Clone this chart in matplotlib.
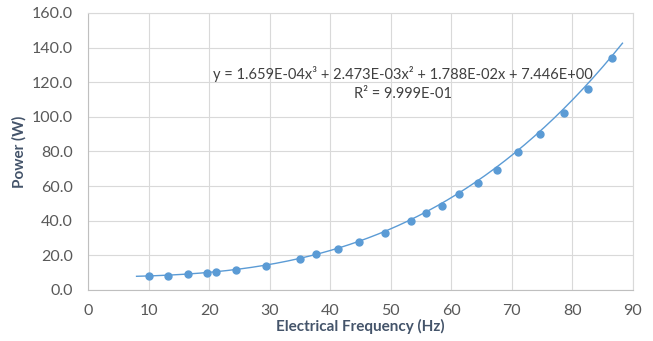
import numpy as np
import matplotlib.pyplot as plt

freq = [10.0, 13.2, 16.5, 19.6, 21.2, 24.5, 29.4, 35.0, 37.7, 41.3, 44.8,
        49.1, 53.3, 55.9, 58.4, 61.3, 64.5, 67.5, 71.1, 74.6, 78.7, 82.6, 86.6]
power = [8.0, 8.1, 9.0, 9.8, 10.3, 11.7, 14.0, 17.9, 20.5, 23.5, 27.5,
         33.0, 39.7, 44.4, 48.7, 55.2, 62.0, 69.4, 79.6, 89.8, 102.3, 115.8, 133.9]

# trendline coefficients from the chart label (x^3, x^2, x, 1)
coef = [1.659e-04, 2.473e-03, 1.788e-02, 7.446e+00]
trend_range = [8.0, 88.3]

xticks = [0, 10, 20, 30, 40, 50, 60, 70, 80, 90]
yticks = [0, 20, 40, 60, 80, 100, 120, 140, 160]

blue = '#5B9BD5'
grid_c = '#D9D9D9'
txt = '#595959'

plt.rcParams['font.family'] = ['Lato', 'DejaVu Sans']

fig = plt.figure(figsize=(6.53, 3.41), dpi=100)
ax = fig.add_axes([0.135, 0.150, 0.834, 0.812])

xt = np.linspace(trend_range[0], trend_range[1], 200)
ax.plot(xt, np.polyval(coef, xt), color=blue, lw=1.0, zorder=3)
ax.plot(freq, power, 'o', color=blue, ms=5, zorder=4)

ax.set_xlim(0, 90)
ax.set_ylim(0, 160)
ax.set_xticks(xticks)
ax.set_yticks(yticks)
ax.set_yticklabels(['%.1f' % v for v in yticks])
ax.grid(True, color=grid_c, lw=0.8, zorder=0)
ax.set_axisbelow(True)
for s in ['top', 'right']:
    ax.spines[s].set_color(grid_c)
    ax.spines[s].set_linewidth(0.8)
for s in ['left', 'bottom']:
    ax.spines[s].set_color('#BFBFBF')
    ax.spines[s].set_linewidth(0.8)
ax.tick_params(length=0, labelsize=11.5, labelcolor=txt)
ax.tick_params(axis='x', pad=10)
ax.tick_params(axis='y', pad=11)

ax.set_xlabel('Electrical Frequency (Hz)', fontsize=11, fontweight='bold',
              color='#44546A', labelpad=1)
ax.set_ylabel('Power (W)', fontsize=11, fontweight='bold',
              color='#44546A', labelpad=4)

eq = ('y = 1.659E-04x³ + 2.473E-03x² + 1.788E-02x + 7.446E+00\n'
      'R² = 9.999E-01')
ax.text(52.0, 119.3, eq, ha='center', va='center', multialignment='center',
        fontsize=10.5, color='#404040', linespacing=1.5)

fig.savefig('out.png', dpi=100)
